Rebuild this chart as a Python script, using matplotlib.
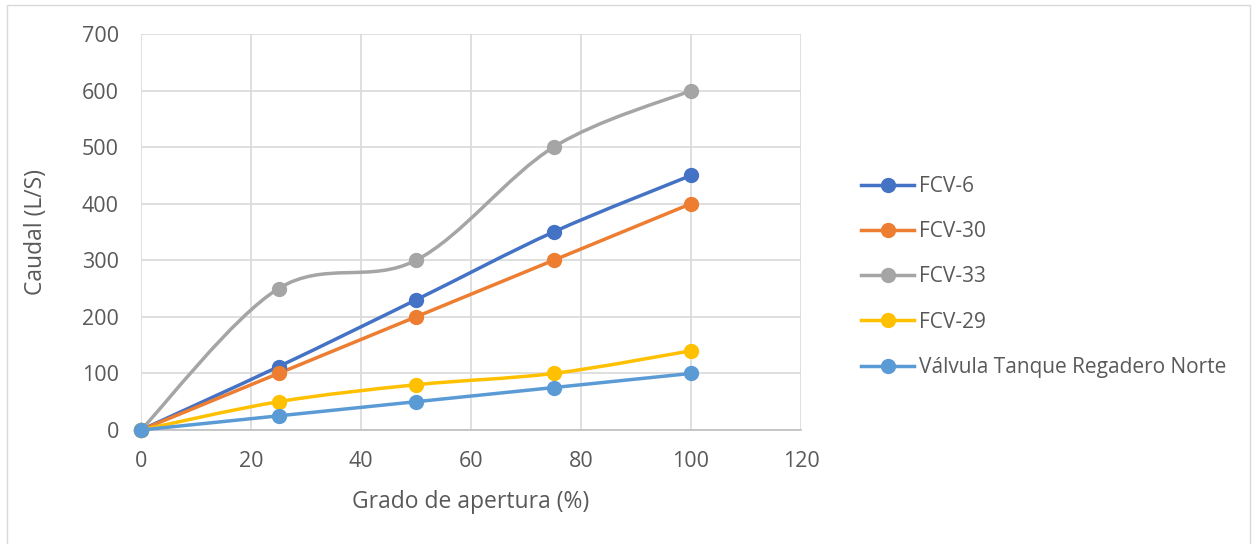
import matplotlib.pyplot as plt
import numpy as np
from matplotlib.path import Path
from matplotlib.patches import PathPatch, Rectangle
from matplotlib.lines import Line2D

plt.rcParams['font.family'] = ['Open Sans', 'DejaVu Sans']

apertura = [0, 25, 50, 75, 100]
fcv6 = [0, 112, 230, 350, 450]
fcv30 = [0, 100, 200, 300, 400]
fcv33 = [0, 250, 300, 500, 600]
fcv29 = [0, 50, 80, 100, 140]
valvula = [0, 25, 50, 75, 100]

nombres = ["FCV-6", "FCV-30", "FCV-33", "FCV-29", "Válvula Tanque Regadero Norte"]
series = [fcv6, fcv30, fcv33, fcv29, valvula]
colores = ["#4472C4", "#ED7D31", "#A5A5A5", "#FFC000", "#5B9BD5"]

texto = "#595959"


def curva_suave(x, y):
    # bezier tipo Excel (Catmull-Rom) entre los puntos
    p = np.column_stack([x, y]).astype(float)
    n = len(p)
    verts = [p[0]]
    codes = [Path.MOVETO]
    for i in range(n - 1):
        p0 = p[i - 1] if i > 0 else p[i]
        p3 = p[i + 2] if i + 2 < n else p[i + 1]
        c1 = p[i] + (p[i + 1] - p0) / 6
        c2 = p[i + 1] - (p3 - p[i]) / 6
        verts += [c1, c2, p[i + 1]]
        codes += [Path.CURVE4] * 3
    return Path(verts, codes)


fig = plt.figure(figsize=(12.57, 5.44), dpi=100)
fig.patches.append(Rectangle((7 / 1257, -0.1), 1243 / 1257, 1.1 - 5 / 544,
                             transform=fig.transFigure, fill=False,
                             edgecolor="#D9D9D9", linewidth=1))
ax = fig.add_axes([141 / 1257, 1 - 430 / 544, 660 / 1257, 396 / 544])

handles = []
for nombre, y, c in zip(nombres, series, colores):
    ax.add_patch(PathPatch(curva_suave(apertura, y), fill=False, edgecolor=c,
                           linewidth=2.5, capstyle="round", joinstyle="round",
                           zorder=3, clip_on=False))
    ax.plot(apertura, y, "o", color=c, markersize=10, zorder=4, clip_on=False)
    handles.append(Line2D([], [], color=c, linewidth=2.5, marker="o", markersize=10, label=nombre))

ax.set_xlim(0, 120)
ax.set_ylim(0, 700)
ax.set_xticks(range(0, 121, 20))
ax.set_yticks(range(0, 701, 100))
ax.grid(True, color="#D9D9D9", linewidth=1.2)
ax.set_axisbelow(True)
for s in ["top", "right", "left"]:
    ax.spines[s].set_visible(False)
ax.spines["bottom"].set_color("#BFBFBF")
ax.spines["bottom"].set_linewidth(1.2)
ax.tick_params(length=0, labelsize=15.5, labelcolor=texto)
ax.tick_params(axis="x", pad=15)
ax.tick_params(axis="y", pad=16)
ax.set_xlabel("Grado de apertura (%)", fontsize=16.5, color=texto, labelpad=13)
ax.set_ylabel("Caudal (L/S)", fontsize=16.5, color=texto, labelpad=24)

fig.legend(handles=handles, loc="center left", bbox_to_anchor=(861 / 1257, 1 - 277 / 544),
           frameon=False, fontsize=15, labelcolor=texto, handlelength=2.55,
           handletextpad=0.24, labelspacing=1.16, borderpad=0, borderaxespad=0)

fig.savefig("out.png", dpi=100)
